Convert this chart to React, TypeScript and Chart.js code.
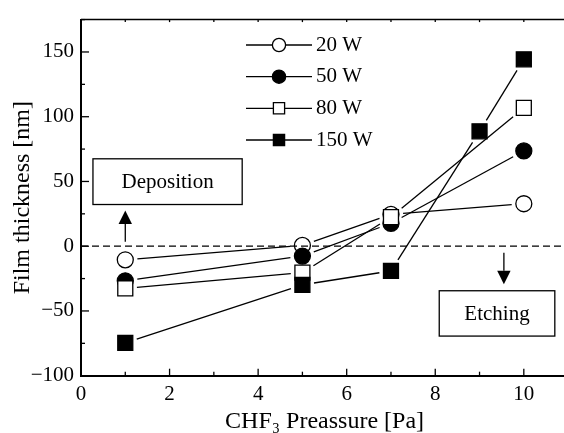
import React, { useEffect, useRef } from 'react';
import { Chart, registerables } from 'chart.js';

Chart.register(...registerables);

// ---- data ----
const seriesLabels = ['20 W', '50 W', '80 W', '150 W'];
const pressure20 = [1, 5, 7, 10];
const thickness20 = [-10.5, 0.6, 24.6, 32.8];
const pressure50 = [1, 5, 7, 10];
const thickness50 = [-26.7, -7.6, 17.7, 73.6];
const pressure80 = [1, 5, 7, 10];
const thickness80 = [-32.6, -20.4, 22.5, 106.8];
const pressure150 = [1, 5, 7, 9, 10];
const thickness150 = [-74.7, -29.8, -19.1, 88.7, 144.3];

const xTickValues = [0, 2, 4, 6, 8, 10];
const yTickValues = [-100, -50, 0, 50, 100, 150];

// annotations in data coordinates
const depositionBoxX = [0.27, 3.64];
const depositionBoxY = [32.2, 67.5];
const depositionArrowX = 1;
const depositionArrowY = [3.4, 27.6];
const etchingBoxX = [8.09, 10.7];
const etchingBoxY = [-69.4, -34.4];
const etchingArrowX = 9.55;
const etchingArrowY = [-5.1, -29.3];

const FONT = '"Liberation Serif", "Times New Roman", Times, serif';

const markerStyles = [
  { style: 'circle', filled: false },
  { style: 'circle', filled: true },
  { style: 'rect', filled: false },
  { style: 'rect', filled: true },
];

function makeDataset(i: number, xs: number[], ys: number[]) {
  const m = markerStyles[i];
  return {
    label: seriesLabels[i],
    data: xs.map((x, k) => ({ x, y: ys[k] })),
    showLine: false,
    pointStyle: m.style,
    pointRadius: m.style === 'rect' ? 10.6 : 8,
    pointHoverRadius: m.style === 'rect' ? 10.6 : 8,
    pointBackgroundColor: m.filled ? '#000' : '#fff',
    pointBorderColor: '#000',
    pointBorderWidth: 1.3,
    order: 3 - i,
  };
}

const gapLines = {
  id: 'gapLines',
  beforeDatasetsDraw(chart: any) {
    const ctx = chart.ctx;
    ctx.save();
    ctx.strokeStyle = '#000';
    ctx.lineWidth = 1.3;
    chart.data.datasets.forEach((ds: any, i: number) => {
      const pts = chart.getDatasetMeta(i).data;
      const isRect = ds.pointStyle === 'rect';
      const r = ds.pointRadius;
      for (let k = 0; k < pts.length - 1; k++) {
        const a = pts[k];
        const b = pts[k + 1];
        const dx = b.x - a.x;
        const dy = b.y - a.y;
        const len = Math.hypot(dx, dy);
        const ux = dx / len;
        const uy = dy / len;
        const edge = isRect ? (r * Math.SQRT1_2) / Math.max(Math.abs(ux), Math.abs(uy)) : r;
        const g = edge + 0.65 + 3.5;
        if (len <= 2 * g) continue;
        ctx.beginPath();
        ctx.moveTo(a.x + ux * g, a.y + uy * g);
        ctx.lineTo(b.x - ux * g, b.y - uy * g);
        ctx.stroke();
      }
    });
    ctx.restore();
  },
};

function arrow(ctx: CanvasRenderingContext2D, x: number, y0: number, y1: number) {
  const dir = Math.sign(y1 - y0);
  const head = 13.5;
  const hw = 6.7;
  ctx.beginPath();
  ctx.moveTo(x, y0);
  ctx.lineTo(x, y1 - dir * head);
  ctx.stroke();
  ctx.beginPath();
  ctx.moveTo(x, y1);
  ctx.lineTo(x - hw, y1 - dir * head);
  ctx.lineTo(x + hw, y1 - dir * head);
  ctx.closePath();
  ctx.fill();
}

const decorations = {
  id: 'decorations',
  afterDatasetsDraw(chart: any) {
    const ctx: CanvasRenderingContext2D = chart.ctx;
    const xs = chart.scales.x;
    const ys = chart.scales.y;
    const area = chart.chartArea;
    ctx.save();
    ctx.strokeStyle = '#000';
    ctx.fillStyle = '#000';

    // dashed zero line
    ctx.lineWidth = 1.3;
    ctx.setLineDash([7, 4]);
    const y0 = ys.getPixelForValue(0);
    ctx.beginPath();
    ctx.moveTo(area.left, y0);
    ctx.lineTo(area.right, y0);
    ctx.stroke();
    ctx.setLineDash([]);

    // top border
    ctx.lineWidth = 1.5;
    ctx.beginPath();
    ctx.moveTo(area.left, area.top);
    ctx.lineTo(area.right, area.top);
    ctx.stroke();

    // inward ticks
    ctx.lineWidth = 1.3;
    for (let v = 0; v <= 11; v++) {
      const px = xs.getPixelForValue(v);
      const len = v % 2 === 0 ? 7 : 4;
      ctx.beginPath();
      ctx.moveTo(px, area.bottom);
      ctx.lineTo(px, area.bottom - len);
      ctx.stroke();
      ctx.beginPath();
      ctx.moveTo(px, area.top);
      ctx.lineTo(px, area.top + 2.5);
      ctx.stroke();
    }
    for (let v = -100; v <= 175; v += 25) {
      const py = ys.getPixelForValue(v);
      const len = v % 50 === 0 ? 8 : 4;
      ctx.beginPath();
      ctx.moveTo(area.left, py);
      ctx.lineTo(area.left + len, py);
      ctx.stroke();
    }

    // annotation boxes
    ctx.font = `21px ${FONT}`;
    ctx.textAlign = 'center';
    ctx.textBaseline = 'middle';
    const box = (bx: number[], by: number[], text: string) => {
      const l = xs.getPixelForValue(bx[0]);
      const r = xs.getPixelForValue(bx[1]);
      const t = ys.getPixelForValue(by[1]);
      const b = ys.getPixelForValue(by[0]);
      ctx.fillStyle = '#fff';
      ctx.fillRect(l, t, r - l, b - t);
      ctx.fillStyle = '#000';
      ctx.lineWidth = 1.3;
      ctx.strokeRect(l, t, r - l, b - t);
      ctx.fillText(text, (l + r) / 2, (t + b) / 2 + 1);
    };
    box(depositionBoxX, depositionBoxY, 'Deposition');
    box(etchingBoxX, etchingBoxY, 'Etching');
    ctx.lineWidth = 1.3;
    arrow(ctx, xs.getPixelForValue(depositionArrowX), ys.getPixelForValue(depositionArrowY[0]), ys.getPixelForValue(depositionArrowY[1]));
    arrow(ctx, xs.getPixelForValue(etchingArrowX), ys.getPixelForValue(etchingArrowY[0]), ys.getPixelForValue(etchingArrowY[1]));

    // legend
    const rowsY = [45, 76.7, 108.3, 140];
    const lx0 = 246;
    const lx1 = 312;
    const mx = 279;
    const tx = 316;
    ctx.textAlign = 'left';
    ctx.textBaseline = 'middle';
    chart.data.datasets.forEach((ds: any, i: number) => {
      const y = rowsY[i];
      const m = markerStyles[i];
      ctx.lineWidth = 1.3;
      ctx.strokeStyle = '#000';
      ctx.beginPath();
      ctx.moveTo(lx0, y);
      ctx.lineTo(lx1, y);
      ctx.stroke();
      ctx.fillStyle = m.filled ? '#000' : '#fff';
      ctx.beginPath();
      if (m.style === 'circle') {
        ctx.arc(mx, y, 6.6, 0, Math.PI * 2);
      } else {
        ctx.rect(mx - 5.6, y - 5.6, 11.2, 11.2);
      }
      ctx.fill();
      ctx.stroke();
      ctx.fillStyle = '#000';
      ctx.fillText(ds.label, tx, y);
    });
    ctx.restore();
  },
};

const fmt = (v: number) => (v < 0 ? '\u2212' + Math.abs(v) : String(v));

export default function App() {
  const ref = useRef<HTMLCanvasElement>(null);
  useEffect(() => {
    const chart = new Chart(ref.current as HTMLCanvasElement, {
      type: 'scatter',
      data: {
        datasets: [
          makeDataset(0, pressure20, thickness20),
          makeDataset(1, pressure50, thickness50),
          makeDataset(2, pressure80, thickness80),
          makeDataset(3, pressure150, thickness150),
        ] as any,
      },
      options: {
        animation: false,
        responsive: false,
        devicePixelRatio: 1,
        layout: { padding: { left: 0, right: 9.5, top: 16.7, bottom: 0 } },
        plugins: { legend: { display: false }, tooltip: { enabled: false } },
        scales: {
          x: {
            type: 'linear',
            position: 'bottom',
            min: 0,
            max: 11,
            grid: { display: false, drawTicks: false },
            border: { display: true, color: '#000', width: 2 },
            afterBuildTicks: (s: any) => {
              s.ticks = xTickValues.map((v) => ({ value: v }));
            },
            afterFit: (s: any) => {
              s.height = 57.3;
            },
            ticks: {
              autoSkip: false,
              maxRotation: 0,
              padding: 6.5,
              color: '#000',
              font: { family: FONT, size: 21 },
              callback: (v: any) => fmt(Number(v)),
            },
            title: {
              display: true,
              text: 'CHF\u2083 Preassure [Pa]',
              color: '#000',
              font: { family: FONT, size: 24 },
              padding: { top: 0, bottom: -3 },
            },
          },
          y: {
            type: 'linear',
            min: -100,
            max: 175,
            grid: { display: false, drawTicks: false },
            border: { display: true, color: '#000', width: 2 },
            afterBuildTicks: (s: any) => {
              s.ticks = yTickValues.map((v) => ({ value: v }));
            },
            afterFit: (s: any) => {
              s.width = 81;
            },
            ticks: {
              autoSkip: false,
              padding: 7,
              color: '#000',
              font: { family: FONT, size: 21 },
              callback: (v: any) => fmt(Number(v)),
            },
            title: {
              display: true,
              text: 'Film thickness [nm]',
              color: '#000',
              font: { family: FONT, size: 24 },
              padding: { top: 8.5, bottom: 0 },
            },
          },
        },
      } as any,
      plugins: [gapLines, decorations],
    });
    return () => chart.destroy();
  }, []);
  return (
    <div style={{ position: 'absolute', left: 0, top: 0, width: 564, height: 433, overflow: 'hidden', background: '#fff' }}>
      <canvas ref={ref} width={580} height={433} style={{ display: 'block', width: 580, height: 433 }} />
    </div>
  );
}
